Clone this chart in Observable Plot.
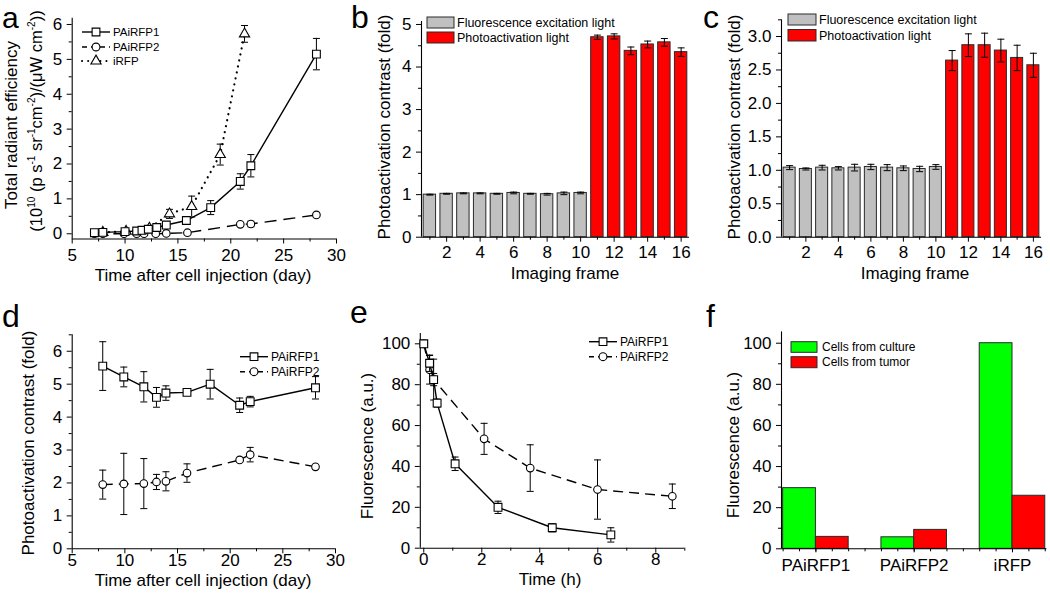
<!DOCTYPE html>
<html><head><meta charset="utf-8">
<script src="https://cdn.jsdelivr.net/npm/d3@7"></script>
<script src="https://cdn.jsdelivr.net/npm/@observablehq/plot@0.6"></script>
<style>
body{margin:0;background:#fff;}
#fig{position:relative;width:1050px;height:594px;font-family:"Liberation Sans",Arial,sans-serif;overflow:hidden;}
#fig svg{position:absolute;overflow:visible;}
</style></head><body><div id="fig"></div>
<script>
// ---------- DATA ----------
// Panel a: total radiant efficiency vs day
const aDays1 = [7.1, 7.9, 10.0, 11.1, 11.6, 12.2, 13.0, 13.9, 15.8, 18.1, 20.9, 21.9, 28.1];
const aVal1  = [0.03, 0.04, 0.06, 0.08, 0.10, 0.13, 0.18, 0.25, 0.38, 0.75, 1.50, 1.95, 5.15];
const aErr1  = [0.03, 0.03, 0.03, 0.04, 0.04, 0.04, 0.05, 0.05, 0.06, 0.20, 0.22, 0.32, 0.45];
const aDays2 = [7.1, 7.9, 9.9, 11.1, 11.8, 12.9, 13.9, 15.9, 20.9, 21.9, 28.1];
const aVal2  = [0.00, 0.00, 0.00, 0.00, 0.00, 0.00, 0.01, 0.03, 0.27, 0.28, 0.54];
const aErr2  = [0.02, 0.02, 0.02, 0.02, 0.02, 0.02, 0.02, 0.03, 0.05, 0.08, 0.05];
const aDays3 = [7.9, 10.1, 12.3, 14.2, 16.3, 19.0, 21.3];
const aVal3  = [0.04, 0.07, 0.16, 0.57, 0.78, 2.27, 5.73];
const aErr3  = [0.03, 0.03, 0.05, 0.13, 0.30, 0.30, 0.24];
// Panel b / c: photoactivation contrast per imaging frame
const frames = [1,2,3,4,5,6,7,8,9,10,11,12,13,14,15,16];
const bVals = [1.00,1.02,1.03,1.03,1.02,1.04,1.02,1.01,1.03,1.04, 4.70,4.72,4.38,4.53,4.58,4.35];
const bErr  = [0.01,0.01,0.01,0.01,0.01,0.02,0.01,0.02,0.03,0.02, 0.05,0.06,0.09,0.08,0.09,0.10];
const cVals = [1.04,1.02,1.04,1.03,1.04,1.05,1.04,1.03,1.02,1.05, 2.64,2.87,2.87,2.79,2.68,2.57];
const cErr  = [0.03,0.015,0.035,0.025,0.05,0.04,0.045,0.035,0.04,0.035, 0.15,0.17,0.18,0.17,0.19,0.18];
const lastExcitationFrame = 10;
// Panel d: photoactivation contrast vs day
const dDays1 = [7.9, 9.9, 11.8, 13.0, 13.9, 15.9, 18.1, 20.9, 21.9, 28.1];
const dVal1  = [5.55, 5.22, 4.92, 4.60, 4.73, 4.75, 5.00, 4.36, 4.47, 4.89];
const dErr1  = [0.74, 0.30, 0.46, 0.30, 0.22, 0.03, 0.45, 0.22, 0.16, 0.34];
const dDays2 = [7.9, 9.9, 11.8, 13.0, 13.9, 15.9, 20.9, 21.9, 28.1];
const dVal2  = [1.95, 1.97, 1.98, 2.03, 2.05, 2.30, 2.70, 2.86, 2.49];
const dErr2  = [0.44, 0.93, 0.76, 0.23, 0.29, 0.28, 0.05, 0.22, 0.06];
// Panel e: fluorescence vs time (h)
const eT1 = [0, 0.2, 0.34, 0.46, 1.08, 2.56, 4.43, 6.45];
const eV1 = [100, 90.5, 82.5, 71, 41.3, 20, 10, 6.5];
const eE1 = [0.5, 4, 3, 2, 3.3, 3, 2, 3.5];
const eT2 = [0, 0.2, 0.34, 2.08, 3.67, 5.99, 8.57];
const eV2 = [100, 87.3, 82.5, 53.5, 39.2, 28.7, 25.4];
const eE2 = [0.5, 7, 10, 7.6, 11.4, 14.5, 6];
// Panel f: fluorescence of cells
const fCats = ["PAiRFP1", "PAiRFP2", "iRFP"];
const fCulture = [29.5, 5.6, 100];
const fTumor = [5.8, 9.2, 25.8];
const fSeries = ["Cells from culture", "Cells from tumor"];
// Labels
const seriesNames = ["PAiRFP1", "PAiRFP2", "iRFP"];
const barLegend = ["Fluorescence excitation light", "Photoactivation light"];

// ---------- STYLE ----------
const FONT = '"Liberation Sans", Arial, sans-serif';
const GRAY = "#c0c0c0", RED = "#ff0000", GREEN = "#00ff00", EDGE = "#2a2a2a";
const fig = document.getElementById("fig");

const capSym = {draw(ctx, size) { const r = Math.sqrt(size / Math.PI); ctx.moveTo(-r, 0); ctx.lineTo(r, 0); }};
const toPts = (xs, vs, es) => xs.map((x, i) => ({x, v: vs[i], e: es[i]}));

function errMarks(data, xf, capR = 3.5) {
  return [
    Plot.ruleX(data, {x: xf, y1: d => d.v - d.e, y2: d => d.v + d.e, stroke: "black", strokeWidth: 1}),
    Plot.dot(data, {x: xf, y: d => d.v + d.e, symbol: capSym, r: capR, fill: "none", stroke: "black", strokeWidth: 1}),
    Plot.dot(data, {x: xf, y: d => d.v - d.e, symbol: capSym, r: capR, fill: "none", stroke: "black", strokeWidth: 1})
  ];
}
function series(data, symbol, dash, r) {
  const dotted = dash === "dot";
  return [
    Plot.line(data, {x: "x", y: "v", stroke: "black", strokeWidth: dotted ? 2.2 : 1.4,
      strokeDasharray: dotted ? "0.1,6" : dash, strokeLinecap: dotted ? "round" : "butt"}),
    ...errMarks(data, "x"),
    Plot.dot(data, {x: "x", y: "v", symbol, r, fill: "white", stroke: "black", strokeWidth: 1.1})
  ];
}
function axes(xDom, yDom, xMaj, xMin, yMaj, yMin, xFmt, yFmt, xPad = 5) {
  return [
    Plot.axisX(xMin, {tickSize: 3, tickFormat: () => "", label: null}),
    Plot.axisX(xMaj, {tickSize: 5, tickPadding: xPad, tickFormat: xFmt, label: null}),
    Plot.axisY(yMin, {tickSize: 3, tickFormat: () => "", label: null}),
    Plot.axisY(yMaj, {tickSize: 5, tickPadding: 5, tickFormat: yFmt, label: null}),
    Plot.ruleX([xDom[0]], {stroke: "black", strokeWidth: 1.1}),
    Plot.ruleY([yDom[0]], {stroke: "black", strokeWidth: 1.1})
  ];
}
function panel(c) {
  const svg = Plot.plot({
    width: c.w, height: c.h,
    marginLeft: c.fx0 - c.left, marginRight: c.left + c.w - c.fx1,
    marginTop: c.fy1 - c.top, marginBottom: c.top + c.h - c.fy0,
    x: {domain: c.xDomain, label: null},
    y: {domain: c.yDomain, label: null},
    style: {fontFamily: FONT, fontSize: "17px", color: "black", background: "transparent", overflow: "visible"},
    marks: c.marks
  });
  svg.style.left = c.left + "px"; svg.style.top = c.top + "px";
  fig.appendChild(svg);
  const g = d3.select(svg).append("g").attr("transform", `translate(${-c.left},${-c.top})`)
    .attr("font-family", FONT).attr("fill", "black");
  return g;
}
function text(g, x, y, s, o = {}) {
  const t = g.append("text").attr("font-size", o.size || 17).attr("text-anchor", o.anchor || "start").text(s);
  if (o.rotate) t.attr("transform", `translate(${x},${y}) rotate(-90)`).attr("dy", "0.35em");
  else t.attr("x", x).attr("y", y);
  if (o.dy) t.attr("dy", o.dy);
  return t;
}
function lineLegend(g, items, x0, x1, tx, size) {
  items.forEach(it => {
    const dotted = it.dash === "dot";
    g.append("line").attr("x1", x0).attr("x2", x1).attr("y1", it.y).attr("y2", it.y)
      .attr("stroke", "black").attr("stroke-width", dotted ? 2 : 1.4)
      .attr("stroke-dasharray", dotted ? "0.1,6" : it.dash || null)
      .attr("stroke-linecap", dotted ? "round" : "butt");
    g.append("path").attr("d", d3.symbol(it.sym, it.area)()).attr("transform", `translate(${(x0 + x1) / 2},${it.y})`)
      .attr("fill", "white").attr("stroke", "black").attr("stroke-width", 1.1);
    text(g, tx, it.y, it.label, {size, dy: "0.35em"});
  });
}
function boxLegend(g, items, x0, x1, tx, size) {
  items.forEach(it => {
    g.append("rect").attr("x", x0).attr("y", it.y0).attr("width", x1 - x0).attr("height", it.y1 - it.y0)
      .attr("fill", it.fill).attr("stroke", EDGE).attr("stroke-width", 1);
    text(g, tx, (it.y0 + it.y1) / 2, it.label, {size, dy: "0.35em"});
  });
}
const DASH = "10,6", DOT = "dot";
const range = (a, b, s) => d3.range(a, b + s / 2, s);

// ---------- PANEL A ----------
{
  const xD = [5, 30], yD = [-0.15, 6.18];
  const g = panel({left: 0, top: 0, w: 350, h: 290, fx0: 71.7, fx1: 336, fy0: 238.5, fy1: 17.7, xDomain: xD, yDomain: yD,
    marks: [
      ...axes(xD, yD, range(5, 30, 5), range(7.5, 27.5, 5), range(0, 6, 1), range(0.5, 5.5, 1)),
      ...series(toPts(aDays3, aVal3, aErr3), "triangle", DOT, 3.8),
      ...series(toPts(aDays2, aVal2, aErr2), "circle", "12,7", 3.8),
      ...series(toPts(aDays1, aVal1, aErr1), "square", null, 4.4)
    ]});
  text(g, 2, 28, "a", {size: 30});
  text(g, 11, 125, "Total radiant efficiency", {rotate: true, anchor: "middle"});
  const t = g.append("text").attr("font-size", 16.5).attr("text-anchor", "middle")
    .attr("transform", "translate(36,121) rotate(-90)").attr("dy", "0.35em");
  const segs = [["(10"], ["10", 1], [" (p s"], ["-1", 1], [" sr"], ["-1", 1], ["cm"], ["-2", 1], [")/(\u03BCW cm"], ["-2", 1], ["))"]];
  let prevSup = false;
  segs.forEach(([s, sup]) => {
    const ts = t.append("tspan").text(s);
    if (sup && !prevSup) ts.attr("font-size", 10).attr("dy", -7);
    else if (!sup && prevSup) ts.attr("dy", 7);
    else if (sup) ts.attr("font-size", 10);
    prevSup = !!sup;
  });
  text(g, 203, 281, "Time after cell injection (day)", {anchor: "middle"});
  lineLegend(g, [
    {y: 32, sym: d3.symbolSquare, area: 60, dash: null, label: seriesNames[0]},
    {y: 47, sym: d3.symbolCircle, area: 48, dash: "5,4", label: seriesNames[1]},
    {y: 61, sym: d3.symbolTriangle, area: 45, dash: DOT, label: seriesNames[2]}
  ], 82, 110, 113, 11.5);
}

// ---------- PANELS B, C ----------
function barPanel(left, vals, errs, fx0, fx1, yD, fy1, yMaj, yMin, yFmt, letter, letterX, titleX, legendBoxes, legendX0, legendX1, legendTX) {
  const xD = [0.5, 16.5];
  const data = frames.map((f, i) => ({x: f, v: vals[i], e: errs[i]}));
  const exc = data.filter(d => d.x <= lastExcitationFrame), act = data.filter(d => d.x > lastExcitationFrame);
  const g = panel({left, top: 0, w: 350, h: 290, fx0, fx1, fy0: 236.7, fy1, xDomain: xD, yDomain: yD,
    marks: [
      Plot.rect(exc, {x1: d => d.x - 0.37, x2: d => d.x + 0.37, y1: 0, y2: "v", fill: GRAY, stroke: EDGE, strokeWidth: 1}),
      Plot.rect(act, {x1: d => d.x - 0.37, x2: d => d.x + 0.37, y1: 0, y2: "v", fill: RED, stroke: EDGE, strokeWidth: 1}),
      ...errMarks(data, "x", 3.5),
      ...axes(xD, yD, range(2, 16, 2), range(1, 15, 2), yMaj, yMin, undefined, yFmt, 3.5)
    ]});
  text(g, letterX, 28, letter, {size: 32});
  text(g, left + 34, 127, "Photoactivation contrast (fold)", {rotate: true, anchor: "middle"});
  text(g, titleX, 279, "Imaging frame", {anchor: "middle"});
  boxLegend(g, [
    {y0: legendBoxes[0][0], y1: legendBoxes[0][1], fill: GRAY, label: barLegend[0]},
    {y0: legendBoxes[1][0], y1: legendBoxes[1][1], fill: RED, label: barLegend[1]}
  ], legendX0, legendX1, legendTX, 12.5);
}
barPanel(350, bVals, bErr, 421, 689, [0, 5.07], 21, range(0, 5, 1), range(0.5, 4.5, 1), undefined, "b", 351, 565,
  [[17, 28], [32, 43]], 427, 454, 457);
barPanel(700, cVals, cErr, 781, 1041, [0, 3.25], 19.3, range(0, 3, 0.5), range(0.25, 3.25, 0.5), d3.format(".1f"), "c", 703, 915,
  [[14, 25], [29.5, 41]], 788, 816, 819);

// ---------- PANEL D ----------
{
  const xD = [5, 30], yD = [0, 6.5];
  const g = panel({left: 0, top: 290, w: 350, h: 304, fx0: 71.7, fx1: 335, fy0: 548.3, fy1: 334.3, xDomain: xD, yDomain: yD,
    marks: [
      ...axes(xD, yD, range(5, 30, 5), range(7.5, 27.5, 5), range(0, 6, 1), range(0.5, 6.5, 1), undefined, undefined, 0),
      ...series(toPts(dDays2, dVal2, dErr2), "circle", DASH, 3.8),
      ...series(toPts(dDays1, dVal1, dErr1), "square", null, 4.4)
    ]});
  text(g, 2, 327, "d", {size: 32});
  text(g, 28, 443, "Photoactivation contrast (fold)", {rotate: true, anchor: "middle"});
  text(g, 203, 586, "Time after cell injection (day)", {anchor: "middle"});
  lineLegend(g, [
    {y: 356.7, sym: d3.symbolSquare, area: 60, dash: null, label: seriesNames[0]},
    {y: 371.7, sym: d3.symbolCircle, area: 48, dash: "5,4", label: seriesNames[1]}
  ], 240, 268, 271, 12);
}

// ---------- PANEL E ----------
{
  const xD = [-0.12, 9], yD = [0, 105];
  const g = panel({left: 350, top: 290, w: 350, h: 304, fx0: 419.8, fx1: 684.3, fy0: 547.7, fy1: 333.1, xDomain: xD, yDomain: yD,
    marks: [
      ...axes(xD, yD, range(0, 8, 2), range(1, 9, 2), range(0, 100, 20), range(10, 90, 20), undefined, undefined, 0),
      ...series(toPts(eT2, eV2, eE2), "circle", DASH, 3.8),
      ...series(toPts(eT1, eV1, eE1), "square", null, 4.4)
    ]});
  text(g, 350, 323, "e", {size: 32});
  text(g, 367, 446, "Fluorescence (a.u.)", {rotate: true, anchor: "middle"});
  text(g, 550, 585, "Time (h)", {anchor: "middle"});
  lineLegend(g, [
    {y: 341.7, sym: d3.symbolSquare, area: 60, dash: null, label: seriesNames[0]},
    {y: 356.7, sym: d3.symbolCircle, area: 48, dash: "5,4", label: seriesNames[1]}
  ], 589, 617, 620, 12);
}

// ---------- PANEL F ----------
{
  const xD = [0.65, 3.35], yD = [0, 105.5];
  const data = fCats.flatMap((c, i) => [
    {cat: c, i: i + 1, s: 0, v: fCulture[i]},
    {cat: c, i: i + 1, s: 1, v: fTumor[i]}
  ]);
  const bw = 1 / 3;
  const g = panel({left: 700, top: 290, w: 350, h: 304, fx0: 781, fx1: 1046.4, fy0: 548.3, fy1: 331.4, xDomain: xD, yDomain: yD,
    marks: [
      Plot.rect(data.filter(d => d.s === 0), {x1: d => d.i - bw, x2: d => d.i, y1: 0, y2: "v", fill: GREEN, stroke: EDGE, strokeWidth: 1}),
      Plot.rect(data.filter(d => d.s === 1), {x1: d => d.i, x2: d => d.i + bw, y1: 0, y2: "v", fill: RED, stroke: EDGE, strokeWidth: 1}),
      Plot.axisX(d3.range(0, 17).map(k => 2 / 3 + k / 6), {tickSize: 3, tickFormat: () => "", label: null}),
      Plot.axisX([1, 2, 3], {tickSize: 4, tickPadding: 6, tickFormat: k => fCats[k - 1], label: null}),
      Plot.axisY(range(10, 90, 20), {tickSize: 3, tickFormat: () => "", label: null}),
      Plot.axisY(range(0, 100, 20), {tickSize: 5, tickPadding: 5, label: null}),
      Plot.ruleX([xD[0]], {stroke: "black", strokeWidth: 1.1}),
      Plot.ruleY([yD[0]], {stroke: "black", strokeWidth: 1.1})
    ]});
  text(g, 706, 327, "f", {size: 32});
  text(g, 733, 445, "Fluorescence (a.u.)", {rotate: true, anchor: "middle"});
  boxLegend(g, [
    {y0: 341.7, y1: 352.3, fill: GREEN, label: fSeries[0]},
    {y0: 356.7, y1: 367.7, fill: RED, label: fSeries[1]}
  ], 791, 817, 822, 12);
}
</script></body></html>
